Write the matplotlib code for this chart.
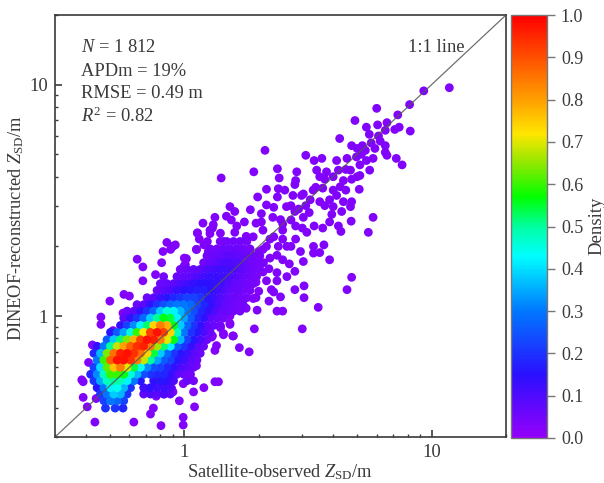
#!/usr/bin/env python
"""DINEOF-reconstructed vs satellite-observed Z_SD, density-coloured scatter."""

import matplotlib
matplotlib.use("Agg")
import numpy as np
import matplotlib.pyplot as plt
from matplotlib.colors import LinearSegmentedColormap, Normalize
from matplotlib.ticker import LogLocator, NullFormatter

plt.rcParams["font.family"] = ["Liberation Serif", "DejaVu Serif"]
plt.rcParams["mathtext.fontset"] = "custom"
plt.rcParams["mathtext.rm"] = "Liberation Serif"
plt.rcParams["mathtext.it"] = "Liberation Serif:italic"

# --- dense core: y, then x and density per row
core_y = [0.40, 0.43, 0.46, 0.49, 0.525, 0.56, 0.60, 0.645, 0.69, 0.74, 0.79, 0.85,
          0.91, 0.98, 1.05, 1.12, 1.2, 1.29, 1.38, 1.48, 1.59, 1.7, 1.82, 1.95, 2.1]
core_x = [
    [.48, .525, .565],
    [.473, .503, .535, .569],
    [.458, .487, .519, .552, .587, .685, .729, .776, .825, .878],
    [.444, .473, .503, .535, .569, .606, .685, .729, .776, .825, .878],
    [.431, .458, .487, .519, .552, .587, .625, .665, .752, .80, .851, .905, 1.025, 1.09],
    [.418, .444, .473, .503, .535, .569, .606, .644, .685, .729, .776, .825, .878, .934, .994, 1.06],
    [.431, .458, .487, .519, .552, .587, .625, .665, .707, .752, .80, .851, .905, .963, 1.025, 1.09],
    [.444, .473, .503, .535, .569, .606, .644, .685, .729, .776, .825, .878, .934, .994, 1.06, 1.125],
    [.431, .458, .487, .519, .552, .587, .625, .665, .707, .752, .80, .851, .905, .963, 1.025, 1.09, 1.16],
    [.444, .473, .503, .535, .569, .606, .644, .685, .729, .776, .825, .878, .934, .994, 1.06, 1.125, 1.197],
    [.487, .519, .552, .587, .625, .665, .707, .752, .80, .851, .905, .963, 1.025, 1.09, 1.16, 1.235],
    [.503, .535, .569, .606, .644, .685, .729, .776, .825, .878, .934, .994, 1.06, 1.125, 1.197, 1.273],
    [.552, .587, .625, .665, .707, .752, .80, .851, .905, .963, 1.025, 1.09, 1.16, 1.235, 1.313, 1.397],
    [.569, .606, .644, .685, .729, .776, .825, .878, .934, .994, 1.06, 1.125, 1.197, 1.273, 1.354, 1.44],
    [.587, .625, .665, .707, .752, .80, .851, .905, .963, 1.025, 1.09, 1.16, 1.235, 1.313, 1.397, 1.486, 1.58, 1.68],
    [.644, .685, .729, .776, .825, .878, .934, .994, 1.06, 1.125, 1.197, 1.273, 1.354, 1.44, 1.53, 1.63, 1.73],
    [.707, .752, .80, .851, .905, .963, 1.025, 1.09, 1.16, 1.235, 1.313, 1.397, 1.486, 1.58, 1.68, 1.79],
    [.776, .825, .878, .934, .994, 1.06, 1.125, 1.197, 1.273, 1.354, 1.44, 1.53, 1.63, 1.73, 1.845],
    [.80, .851, .905, .963, 1.025, 1.09, 1.16, 1.235, 1.313, 1.397, 1.486, 1.58, 1.68, 1.79, 1.9],
    [.825, .934, .994, 1.06, 1.125, 1.197, 1.273, 1.354, 1.44, 1.53, 1.63, 1.73, 1.845, 1.96],
    [.963, 1.025, 1.09, 1.16, 1.235, 1.313, 1.397, 1.486, 1.58, 1.68, 1.79, 1.9, 2.02],
    [1.197, 1.273, 1.354, 1.44, 1.53, 1.63, 1.73, 1.845, 1.96, 2.09],
    [1.235, 1.313, 1.397, 1.486, 1.58, 1.68, 1.79, 1.9, 2.02],
    [1.273, 1.354, 1.44, 1.53, 1.63, 1.73, 1.845],
    [1.397, 1.486, 1.58, 1.68, 1.79],
]
core_d = [
    [.2, .2, .18],
    [.22, .3, .28, .22],
    [.2, .3, .38, .36, .2, .08, .1, .08, .1, .08],
    [.16, .3, .42, .44, .36, .2, .12, .14, .12, .12, .1],
    [.2, .35, .48, .5, .48, .42, .3, .16, .14, .16, .14, .1, .06, .05],
    [.18, .32, .48, .6, .6, .56, .46, .36, .24, .2, .18, .18, .14, .08, .06, .05],
    [.22, .4, .62, .76, .84, .7, .54, .44, .32, .24, .22, .18, .14, .1, .08, .06],
    [.3, .6, .88, .98, .98, .94, .84, .68, .5, .34, .26, .22, .16, .12, .08, .06],
    [.18, .36, .64, .86, .96, .98, .94, .86, .74, .54, .38, .28, .2, .16, .12, .08, .06],
    [.14, .3, .5, .68, .8, .88, .94, .96, .84, .66, .52, .42, .26, .2, .14, .08, .06],
    [.26, .38, .52, .64, .78, .92, .98, .96, .84, .7, .56, .36, .22, .16, .1, .06],
    [.16, .26, .34, .46, .6, .72, .92, .98, .92, .74, .48, .3, .2, .16, .1, .06],
    [.14, .22, .32, .42, .52, .74, .84, .78, .56, .38, .28, .2, .14, .08, .06, .05],
    [.08, .14, .2, .28, .38, .5, .56, .54, .42, .34, .26, .18, .14, .08, .06, .05],
    [.06, .08, .14, .2, .28, .38, .46, .42, .36, .3, .24, .18, .14, .1, .07, .06, .05, .05],
    [.06, .08, .14, .2, .24, .28, .3, .3, .28, .22, .18, .14, .1, .07, .06, .05, .05],
    [.06, .08, .12, .16, .18, .2, .22, .22, .2, .16, .12, .09, .07, .06, .05, .04],
    [.06, .08, .1, .13, .15, .16, .17, .17, .15, .12, .09, .07, .06, .05, .04],
    [.06, .07, .08, .1, .12, .14, .15, .15, .14, .12, .09, .07, .06, .05, .04],
    [.05, .06, .07, .08, .1, .12, .13, .13, .12, .1, .08, .06, .05, .04],
    [.05, .06, .07, .08, .1, .11, .12, .12, .1, .08, .06, .05, .04],
    [.05, .07, .08, .1, .1, .09, .07, .05, .04, .04],
    [.05, .06, .07, .08, .08, .07, .06, .05, .04],
    [.05, .05, .06, .06, .06, .05, .04],
    [.04, .05, .05, .05, .04],
]

# --- sparse points outside the core
sparse_x = [11.8, 9.3, 8.15, 6.0, 7.3, 4.9, 6.6, 6.05, 5.45, 7.4, 7.1, 8.2, 6.5, 6.1, 5.6, 4.25,
            2.12, 4.75, 5.0, 5.25, 6.5, 6.5, 6.6, 7.2, 7.6, 3.1, 3.35, 3.6, 1.91, 2.38, 1.41, 2.42,
            2.85, 2.82, 2.8, 3.43, 3.53, 3.76, 4.13, 4.2, 4.55, 4.7, 4.97, 5.13, 5.45, 5.8, 5.62,
            5.13, 4.75, 4.4, 4.27, 4.0, 3.63, 3.32, 3.03, 3.23, 3.53, 3.87, 4.13, 4.4, 4.75, 5.1,
            4.7, 4.33, 4.0, 3.95, 3.87, 3.63, 3.35, 3.13, 4.2, 4.3, 4.73, 5.8, 5.55, 3.33, 3.67,
            3.33, 3.53, 3.87, 4.75, 4.55, 3.05, 2.8, 3.05, 3.48, 3.0, 1.92, 1.97, 2.37, 2.5, 2.2,
            2.45, 2.3, 2.6, 2.8, 2.37, 2.37,
            1.13, 1.19, 1.27, 1.33, 1.31, 1.53, 1.48, 1.6, 1.85, 2.05, 1.98, 2.15, 2.38, 2.15,
            2.55, 2.75, 2.98, 2.59, 2.28, 1.95, 1.63, 1.4, 1.24, 1.12, 1.44, 1.78, 2.08, 2.45,
            2.8, 3.03, 2.82, 2.5, 2.22, 2.5, 2.82, 2.7, 2.95, 3.03, 2.66, 2.37, 2.08, 2.22, 1.95,
            2.08, 1.95, 2.15, 2.0, 1.9, 1.78, 1.68, 1.4, 1.53, 1.53, 1.4, 1.3, 1.44, 1.57, 1.0,
            1.0, 0.9, 0.88,
            .435, .625, .805, .99, .99, .73, .75, 1.1, .955, 1.09, 1.2, 1.375, 1.33, .39, .405,
            .44, .385, .39, .425, .41, .46, .46, .5, .57, .6, .515, .565, .645, .68, .68, .765,
            .81, .82, .85, .89, .92, 1.02, 1.01, 1.13, 1.27, 1.12, 1.2, 1.83, 1.67, 1.58, 1.44,
            1.29, 1.53, 1.35, 1.33, 1.4, 1.04, .99, 1.12, 1.07, 1.16, .9, .83, .77, .71, .89, .85]
sparse_y = [9.7, 9.4, 8.2, 7.9, 7.4, 7.0, 6.85, 6.7, 6.55, 6.55, 6.4, 6.3, 6.35, 6.0, 6.1, 5.85,
            5.2, 5.45, 5.3, 5.45, 5.45, 5.1, 4.95, 4.8, 4.5, 4.95, 4.7, 4.8, 4.2, 4.33, 3.95, 3.95,
            4.2, 3.85, 3.7, 4.27, 4.0, 4.2, 4.7, 4.27, 4.8, 4.27, 4.87, 4.5, 4.7, 4.8, 4.27,
            4.05, 3.9, 3.85, 3.62, 3.5, 3.57, 3.5, 3.37, 3.18, 3.12, 3.18, 3.32, 3.12, 3.12, 3.53,
            2.97, 2.83, 2.97, 2.75, 2.55, 2.4, 2.45, 2.3, 2.45, 2.32, 2.57, 2.67, 2.3, 2.0, 2.03,
            1.87, 1.88, 1.75, 1.47, 1.3, 1.35, 1.3, 1.2, 1.09, .88, .88, 1.06, 1.05, 1.05, 1.16,
            1.21, 1.27, 1.48, 1.56, 1.54, 1.42,
            2.28, 2.52, 2.35, 2.67, 2.48, 2.97, 2.7, 2.83, 2.88, 2.77, 3.27, 3.53, 3.27, 3.02,
            3.5, 3.32, 3.32, 2.97, 2.67, 2.52, 2.45, 2.28, 2.1, 1.94, 2.1, 2.21, 2.35, 2.61,
            2.83, 2.67, 2.45, 2.35, 2.15, 2.15, 2.15, 2.0, 1.9, 1.72, 1.68, 1.83, 1.94, 1.78, 1.7,
            1.55, 1.4, 1.42, 1.28, 1.19, 1.08, 1.15, 1.05, 1.0, .93, .9, .82, .83, .82, 1.78,
            1.65, 2.0, 1.94,
            .348, .348, .336, .365, .338, .377, .4, .405, .43, .47, .49, .52, .52, .445, .405,
            .44, .53, .52, .75, .63, .92, .99, 1.16, 1.24, 1.22, .865, 1.03, 1.76, 1.63, 1.42, 1.51,
            1.7, 1.9, 2.08, 2.0, 2.03, 1.77, 1.67, 2.29, 2.27, 1.94, 2.03, .7, .73, .82, .84,
            .81, .92, .745, .71, .89, .535, .51, .61, .665, .73, .47, .46, .45, .47, .485, .5]
# extra points that close the band along the 1:1 line
fill_x = [1.75, 1.85, 2.0, 2.15, 2.3, 2.5, 2.7, 2.4, 2.2, 2.6, 1.75, 1.65, 2.5, 2.9, 3.2, 3.1,
          3.4, 3.7, 4.0, 4.5, 4.5, 5.0, 3.7, 3.0, 1.75, 1.55, 1.6, 1.3, 1.9, 2.05, 1.95, 1.85,
          2.25, 1.25, 1.15, 1.75, 1.55, 2.3, 2.7, 2.4, 5.4, 5.7, 5.9, 5.2, 6.2]
fill_y = [1.6, 1.75, 1.9, 2.0, 2.2, 2.5, 2.6, 2.0, 1.6, 2.0, 1.35, 1.25, 1.75, 2.9, 2.8, 3.0,
          3.6, 3.9, 4.0, 4.3, 3.5, 4.0, 3.0, 2.4, 1.9, 1.85, 2.3, 2.4, 2.2, 2.55, 1.2, 1.5,
          1.3, 1.9, 2.15, 2.55, 2.6, 2.95, 3.0, 3.55, 5.2, 5.6, 5.3, 5.0, 5.7]
sparse_density = 0.03

x_ticks = [1, 10]
x_tick_labels = ["1", "10"]
y_ticks = [1, 10]
y_tick_labels = ["1", "10"]
cbar_ticks = [0.0, 0.1, 0.2, 0.3, 0.4, 0.5, 0.6, 0.7, 0.8, 0.9, 1.0]

DARK = "#3a3a3a"
W, H = 604, 483

# rainbow as on the colour bar
CMAP = LinearSegmentedColormap.from_list("density", [
    (0.00, "#9400fa"), (0.15, "#2a10ff"), (0.30, "#0078ff"), (0.43, "#00ffff"),
    (0.50, "#00ffa0"), (0.57, "#00ff00"), (0.65, "#90e800"), (0.72, "#ffe600"),
    (0.80, "#ffa000"), (0.90, "#ff5000"), (1.00, "#ff0000")])

xs = list(sparse_x) + list(fill_x)
ys = list(sparse_y) + list(fill_y)
ds = [sparse_density] * len(xs)
for y, row_x, row_d in zip(core_y, core_x, core_d):
    xs.extend(row_x)
    ys.extend([y] * len(row_x))
    ds.extend(row_d)
xs, ys, ds = np.array(xs), np.array(ys), np.array(ds)
order = np.argsort(ds)

fig = plt.figure(figsize=(W / 100, H / 100), dpi=100)
ax = fig.add_axes([55 / W, 1 - 437 / H, 451 / W, 422 / H])
sc = ax.scatter(xs[order], ys[order], c=ds[order], s=40, cmap=CMAP, norm=Normalize(0, 1),
                linewidths=0, zorder=2)
ax.plot([0.3, 20], [0.3, 20], color="#555555", lw=0.9, alpha=0.85, zorder=3)

ax.set_xscale("log")
ax.set_yscale("log")
ax.set_xlim(0.3, 20)
ax.set_ylim(0.3, 20)
for axis, ticks, labels in ((ax.xaxis, x_ticks, x_tick_labels), (ax.yaxis, y_ticks, y_tick_labels)):
    axis.set_ticks(ticks)
    axis.set_ticklabels(labels)
    axis.set_minor_locator(LogLocator(base=10, subs=np.arange(2, 10)))
    axis.set_minor_formatter(NullFormatter())
ax.tick_params(which="major", direction="in", length=5, width=1.2, color=DARK,
               labelcolor=DARK, labelsize=13.5, pad=5)
ax.tick_params(which="minor", direction="in", length=2.5, width=1, color=DARK)
for spine in ax.spines.values():
    spine.set_linewidth(1.2)
    spine.set_color(DARK)

fig.text(280 / W, 1 - 472 / H, "Satellite-observed $\\mathit{Z}_{\\mathrm{SD}}$/m", ha="center",
         va="center", fontsize=13.2, color=DARK)
fig.text(16 / W, 1 - 228 / H, "DINEOF-reconstructed $\\mathit{Z}_{\\mathrm{SD}}$/m", ha="center",
         va="center", rotation=90, fontsize=13.2, color=DARK)

for label, py in (("$\\mathit{N}$ = 1 812", 48), ("APDm = 19%", 71),
                  ("RMSE = 0.49 m", 93), ("$\\mathit{R}^{2}$ = 0.82", 116)):
    fig.text(81 / W, 1 - py / H, label, ha="left", va="center", fontsize=13.3, color=DARK)
fig.text(408 / W, 1 - 48 / H, "1:1 line", ha="left", va="center", fontsize=13.3, color=DARK)

cax = fig.add_axes([511 / W, 1 - 438 / H, 36 / W, 423 / H])
cbar = fig.colorbar(sc, cax=cax, ticks=cbar_ticks)
cbar.ax.tick_params(length=6, width=1, color="#777777", labelcolor=DARK, labelsize=13, pad=4)
cbar.ax.set_yticklabels([f"{v:.1f}" for v in cbar_ticks])
cbar.outline.set_edgecolor("#777777")
cbar.outline.set_linewidth(1)
fig.text(597 / W, 1 - 226 / H, "Density", rotation=90, ha="center", va="center",
         fontsize=13.5, color=DARK)

fig.savefig("out.png", dpi=100)
